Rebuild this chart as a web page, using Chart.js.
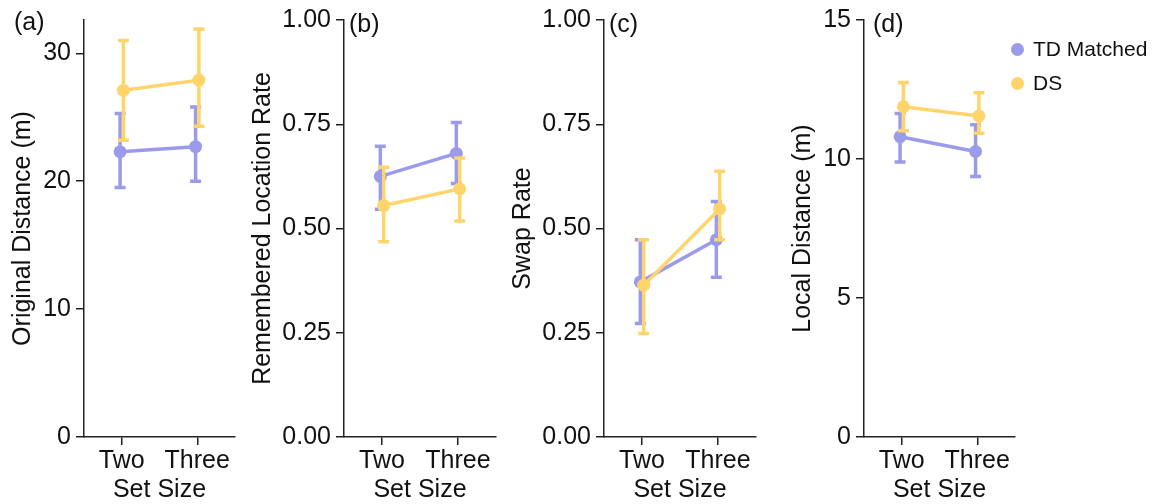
<!DOCTYPE html>
<html>
<head>
<meta charset="utf-8">
<script src="https://cdn.jsdelivr.net/npm/chart.js@4.4.0/dist/chart.umd.min.js"></script>
<style>
    body { margin: 0; background: #fff; font-family: "Liberation Sans", Arial, sans-serif; }
    #wrap { position: relative; width: 1156px; height: 504px; overflow: hidden; }
    canvas { position: absolute; top: 0; }
    .tag { position: absolute; font-size: 25px; color: #111; }
    .leg { position: absolute; font-size: 21px; color: #111; }
    .dot { position: absolute; width: 13px; height: 13px; border-radius: 50%; }
</style>
</head>
<body>
<div id="wrap">
    <canvas id="c-a" width="250" height="504" style="left:0px"></canvas>
    <canvas id="c-b" width="270" height="504" style="left:240px"></canvas>
    <canvas id="c-c" width="270" height="504" style="left:500px"></canvas>
    <canvas id="c-d" width="250" height="504" style="left:780px"></canvas>
    <div class="tag" style="left:14px;top:7px">(a)</div>
    <div class="tag" style="left:349px;top:9px">(b)</div>
    <div class="tag" style="left:609px;top:9px">(c)</div>
    <div class="tag" style="left:873px;top:9px">(d)</div>
    <div class="dot" style="left:1011px;top:43px;background:#9b9beb"></div>
    <div class="leg" style="left:1033px;top:37px">TD Matched</div>
    <div class="dot" style="left:1011px;top:77px;background:#ffd56b"></div>
    <div class="leg" style="left:1033px;top:71px">DS</div>
</div>
<script>
var setSizes = ['Two', 'Three'];
var groupNames = ['TD Matched', 'DS'];

// (a) original distance
var origTD = [22.3, 22.7], origTDLow = [19.5, 20.0], origTDHigh = [25.3, 25.8];
var origDS = [27.1, 27.9], origDSLow = [23.2, 24.3], origDSHigh = [31.0, 31.9];
var origTicks = [0, 10, 20, 30];

// (b) remembered location rate
var remTD = [0.625, 0.680], remTDLow = [0.546, 0.608], remTDHigh = [0.697, 0.754];
var remDS = [0.555, 0.595], remDSLow = [0.468, 0.518], remDSHigh = [0.647, 0.669];

// (c) swap rate
var swapTD = [0.372, 0.473], swapTDLow = [0.272, 0.383], swapTDHigh = [0.473, 0.565];
var swapDS = [0.364, 0.547], swapDSLow = [0.248, 0.473], swapDSHigh = [0.473, 0.637];
var rateTicks = [0, 0.25, 0.5, 0.75, 1];

// (d) local distance
var localTD = [10.8, 10.27], localTDLow = [9.89, 9.37], localTDHigh = [11.64, 11.23];
var localDS = [11.88, 11.55], localDSLow = [11.02, 10.93], localDSHigh = [12.75, 12.38];
var localTicks = [0, 5, 10, 15];

var purple = '#9b9beb';
var yellow = '#ffd56b';
var ink = '#222';
var font = { family: '"Liberation Sans", Arial, sans-serif', size: 25 };

var errorBars = {
    id: 'errorBars',
    beforeDatasetDraw: function (chart, args) {
        var ds = chart.data.datasets[args.index];
        if (!ds.errLow) return;
        var ctx = chart.ctx;
        var xs = chart.scales.x, ys = chart.scales.y;
        ctx.save();
        ctx.strokeStyle = ds.borderColor;
        ctx.lineWidth = 3.5;
        for (var i = 0; i < ds.data.length; i++) {
            var x = xs.getPixelForValue(ds.data[i].x);
            var y1 = ys.getPixelForValue(ds.errLow[i]);
            var y2 = ys.getPixelForValue(ds.errHigh[i]);
            ctx.beginPath();
            ctx.moveTo(x, y1); ctx.lineTo(x, y2);
            ctx.moveTo(x - 5.5, y1); ctx.lineTo(x + 5.5, y1);
            ctx.moveTo(x - 5.5, y2); ctx.lineTo(x + 5.5, y2);
            ctx.stroke();
        }
        ctx.restore();
    }
};

function series(vals, shift) {
    return vals.map(function (v, i) { return { x: i + 1 + shift, y: v }; });
}

function makePanel(id, o) {
    var sets = [
        { label: groupNames[0], data: series(o.td, -0.022), errLow: o.tdLow, errHigh: o.tdHigh, color: purple, order: 2 },
        { label: groupNames[1], data: series(o.ds, 0.022), errLow: o.dsLow, errHigh: o.dsHigh, color: yellow, order: 1 }
    ];
    new Chart(document.getElementById(id), {
        type: 'line',
        data: {
            datasets: sets.map(function (s) {
                return {
                    label: s.label, data: s.data, errLow: s.errLow, errHigh: s.errHigh, order: s.order,
                    borderColor: s.color, backgroundColor: s.color,
                    borderWidth: 3.5, pointRadius: 6.5, pointBorderWidth: 0, pointHoverRadius: 6.5
                };
            })
        },
        plugins: [errorBars],
        options: {
            responsive: false,
            animation: false,
            layout: { padding: { top: 19, right: o.right, bottom: 0, left: 0 } },
            plugins: { legend: { display: false }, tooltip: { enabled: false } },
            scales: {
                x: {
                    type: 'linear', min: 0.5, max: 2.5,
                    afterBuildTicks: function (s) { s.ticks = setSizes.map(function (n, i) { return { value: i + 1 }; }); },
                    afterFit: function (s) { s.height = 67; },
                    ticks: { color: '#111', font: font, padding: 1, maxRotation: 0,
                        callback: function (v) { return setSizes[v - 1]; } },
                    grid: { drawOnChartArea: false, drawTicks: true, tickLength: 8, color: ink, lineWidth: 1.5 },
                    border: { color: ink, width: 1.5 },
                    title: { display: true, text: 'Set Size', color: '#111', font: font, padding: { top: 0, bottom: -1 } }
                },
                y: {
                    min: 0, max: o.max,
                    afterBuildTicks: function (s) { s.ticks = o.ticks.map(function (v) { return { value: v }; }); },
                    afterFit: function (s) { s.width = o.yWidth; },
                    ticks: { color: '#111', font: font, padding: 5,
                        callback: function (v) { return o.fmt ? v.toFixed(2) : String(v); } },
                    grid: { drawOnChartArea: false, drawTicks: true, tickLength: 8, color: ink, lineWidth: 1.5 },
                    border: { color: ink, width: 1.5 },
                    title: { display: true, text: o.title, color: '#111', font: font, padding: { top: 8, bottom: 0 } }
                }
            }
        }
    });
}

makePanel('c-a', { td: origTD, tdLow: origTDLow, tdHigh: origTDHigh, ds: origDS, dsLow: origDSLow, dsHigh: origDSHigh,
    max: 32.6, ticks: origTicks, fmt: false, yWidth: 84, right: 15, title: 'Original Distance (m)' });
makePanel('c-b', { td: remTD, tdLow: remTDLow, tdHigh: remTDHigh, ds: remDS, dsLow: remDSLow, dsHigh: remDSHigh,
    max: 1, ticks: rateTicks, fmt: true, yWidth: 104, right: 14, title: 'Remembered Location Rate' });
makePanel('c-c', { td: swapTD, tdLow: swapTDLow, tdHigh: swapTDHigh, ds: swapDS, dsLow: swapDSLow, dsHigh: swapDSHigh,
    max: 1, ticks: rateTicks, fmt: true, yWidth: 104, right: 14, title: 'Swap Rate' });
makePanel('c-d', { td: localTD, tdLow: localTDLow, tdHigh: localTDHigh, ds: localDS, dsLow: localDSLow, dsHigh: localDSHigh,
    max: 15, ticks: localTicks, fmt: false, yWidth: 84, right: 15, title: 'Local Distance (m)' });
</script>
</body>
</html>
